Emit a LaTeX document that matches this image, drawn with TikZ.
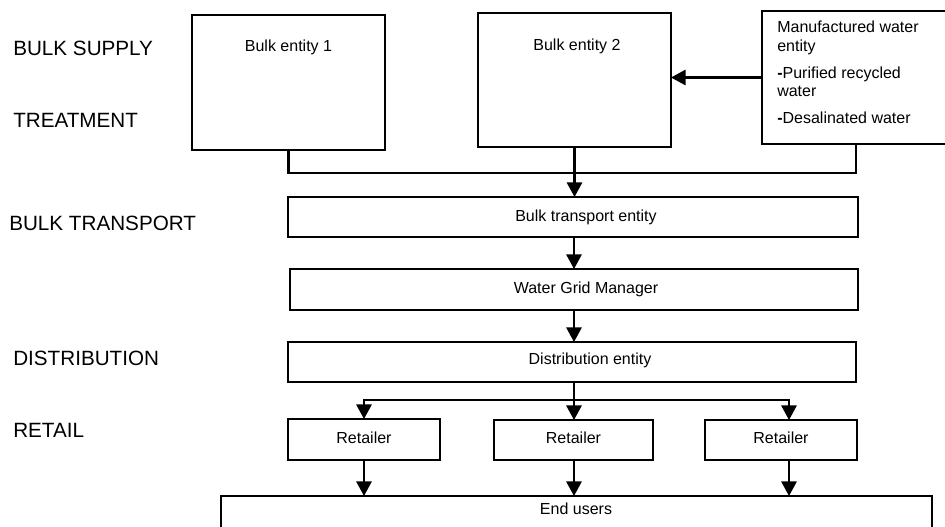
\documentclass[tikz,border=0pt]{standalone}
\usepackage{fontspec}
\setmainfont{Liberation Sans}
\usetikzlibrary{arrows.meta}

\tikzset{
  box/.style={draw=black, line width=1.6pt, fill=white, inner sep=0pt, outer sep=0pt},
  txt/.style={inner sep=0pt, font=\fontsize{12}{14}\selectfont},
  stage/.style={inner sep=0pt, anchor=west, font=\fontsize{15.5}{18}\selectfont},
  link/.style={draw=black, line width=1.6pt},
  arr/.style={link, -{Triangle[length=11pt, width=11.5pt]}}
}

\begin{document}
\begin{tikzpicture}[x=0.75pt, y=-0.75pt]
  \useasboundingbox (0,0) rectangle (945,526);
  \clip (0,0) rectangle (945,526);

  % stage labels on the left
  \node[stage] (lsupply) at (13,48)  {BULK SUPPLY};
  \node[stage] (ltreat)  at (13,120) {TREATMENT};
  \node[stage] (ltrans)  at (9,223)  {BULK TRANSPORT};
  \node[stage] (ldist)   at (13,358) {DISTRIBUTION};
  \node[stage] (lretail) at (13,430) {RETAIL};

  % supply boxes
  \node[box, minimum width=144.75pt, minimum height=101.25pt] (b1) at (288.5,82.5) {};
  \node[txt] (b1t) at (288.5,47) {Bulk entity 1};
  \node[box, minimum width=144.75pt, minimum height=100.5pt] (b2) at (574.5,80) {};
  \node[txt] (b2t) at (577,46) {Bulk entity 2};
  \node[box, minimum width=141pt, minimum height=99.75pt] (mfg) at (856,77.5) {};
  \node[txt, anchor=north west, align=left] (mfgt) at (777,21)
    {Manufactured water\\entity\\[6pt]\textbf{-}Purified recycled\\water\\[6pt]\textbf{-}Desalinated water};

  % chain of wide boxes
  \node[box, minimum width=427.5pt, minimum height=30pt] (bt) at (573,217) {};
  \node[txt] (btt) at (586,217) {Bulk transport entity};
  \node[box, minimum width=426pt, minimum height=30.75pt] (wgm) at (574,289.5) {};
  \node[txt] (wgmt) at (586,289.5) {Water Grid Manager};
  \node[box, minimum width=426pt, minimum height=30pt] (dist) at (572,362) {};
  \node[txt] (distt) at (590,360) {Distribution entity};

  % retailers
  \node[box, minimum width=114pt, minimum height=30.75pt] (r1) at (364,439.5) {};
  \node[txt] (r1t) at (364,438) {Retailer};
  \node[box, minimum width=119.25pt, minimum height=30pt] (r2) at (573.5,440) {};
  \node[txt] (r2t) at (573.5,438) {Retailer};
  \node[box, minimum width=114pt, minimum height=30pt] (r3) at (781,440) {};
  \node[txt] (r3t) at (781,438) {Retailer};

  % end users
  \node[box, minimum width=533.25pt, minimum height=27pt] (eu) at (576.5,514) {};
  \node[txt] (eut) at (576,509) {End users};

  % junction points
  \coordinate (j) at (0,173);
  \coordinate (br) at (574,400);
  \coordinate (r3in) at (789,420);

  % connectors
  \draw[link] (b1.south) -- (b1.south |- j) -| (mfg.south);
  \draw[arr] (mfg.west) -- (mfg.west -| b2.east);
  \draw[arr] (b2.south) -- (b2.south |- bt.north);
  \draw[arr] (wgm.north |- bt.south) -- (wgm.north);
  \draw[arr] (wgm.south) -- (wgm.south |- dist.north);
  \draw[arr] (br |- dist.south) -- (br |- r2.north);
  \draw[arr] (br) -| (r1.north);
  \draw[arr] (br) -| (r3in);
  \draw[arr] (r1.south) -- (r1.south |- eu.north);
  \draw[arr] (br |- r2.south) -- (br |- eu.north);
  \draw[arr] (r3in |- r3.south) -- (r3in |- eu.north);
\end{tikzpicture}
\end{document}
